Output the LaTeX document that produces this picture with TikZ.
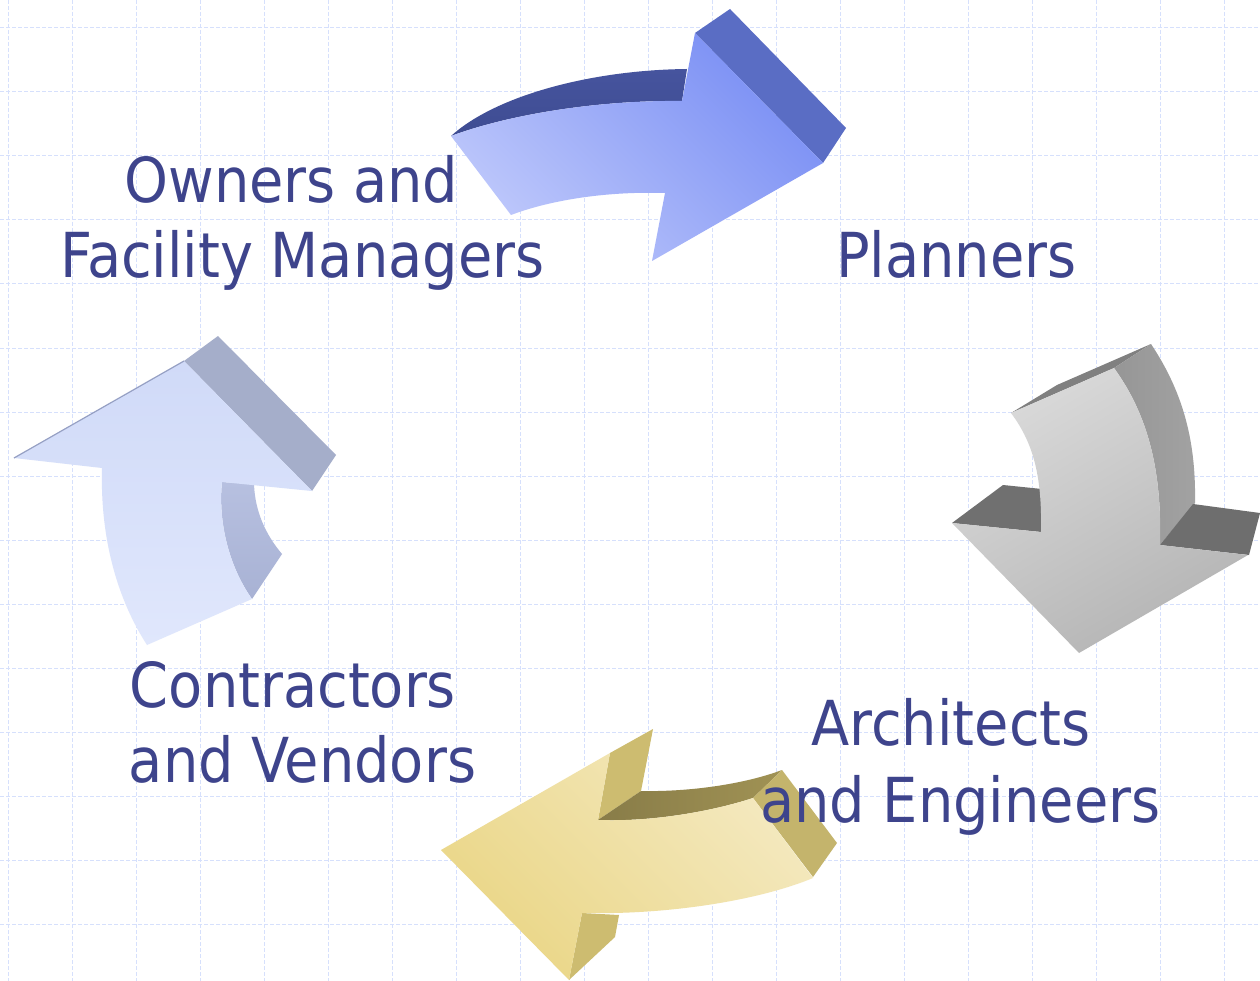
\documentclass[tikz,border=0pt]{standalone}
\usepackage{fontspec}
\setmainfont{DejaVu Sans Condensed}
\definecolor{txt}{RGB}{62,68,140}
\definecolor{gridc}{RGB}{214,224,252}
% blue arrow
\definecolor{bTopA}{RGB}{70,84,158}
\definecolor{bTopB}{RGB}{62,76,146}
\definecolor{bSide}{RGB}{90,109,196}
\definecolor{bUR}{RGB}{122,143,244}
\definecolor{bLL}{RGB}{190,200,251}
% gray arrow
\definecolor{gTop}{RGB}{128,128,128}
\definecolor{gSideA}{RGB}{150,150,150}
\definecolor{gSideB}{RGB}{162,162,162}
\definecolor{gWingL}{RGB}{112,112,112}
\definecolor{gWingR}{RGB}{110,110,110}
\definecolor{gUL}{RGB}{218,218,218}
\definecolor{gLR}{RGB}{180,180,180}
% yellow arrow
\definecolor{ySide}{RGB}{205,188,112}
\definecolor{yTopA}{RGB}{136,124,72}
\definecolor{yTopB}{RGB}{160,146,84}
\definecolor{yEnd}{RGB}{196,180,108}
\definecolor{yUR}{RGB}{244,233,192}
\definecolor{yLL}{RGB}{234,214,134}
% pale blue arrow
\definecolor{pSide}{RGB}{165,174,202}
\definecolor{pInA}{RGB}{183,192,224}
\definecolor{pInB}{RGB}{168,178,212}
\definecolor{pTop}{RGB}{208,218,248}
\definecolor{pBot}{RGB}{224,231,252}
\definecolor{pEdge}{RGB}{150,160,196}
\tikzset{
  lbl/.style={anchor=base, inner sep=0pt, text=txt, font=\fontsize{62}{76}\selectfont},
  gridline/.style={draw=gridc, line width=1pt, dash pattern=on 4pt off 2pt}
}
\begin{document}
\begin{tikzpicture}[x=1pt,y=-1pt]
\useasboundingbox (0,0) rectangle (1260,981);
\fill[white] (0,0) rectangle (1260,981);
% grid
\foreach \i in {0,...,19} \draw[gridline] (8+64*\i,0) -- (8+64*\i,981);
\foreach \j in {0,...,14} \draw[gridline] (0,28+64*\j) -- (1260,28+64*\j);

% ===== Arrow 1 (blue, top) =====
\shade[top color=bTopA, bottom color=bTopB]
  (451,136) .. controls (495,96) and (590,70) .. (687,69) -- (682,101)
  .. controls (600,100) and (510,114) .. (451,136) -- cycle;
\fill[bSide] (695,33) -- (730,9) -- (846,128) -- (823,163) -- cycle;
\shade[top color=bUR, bottom color=bLL, shading angle=-45]
  (451,136) .. controls (510,114) and (600,100) .. (682,101) -- (695,33) -- (823,163) -- (652,261) -- (665,193)
  .. controls (600,191) and (545,202) .. (511,215) -- cycle;

% ===== Arrow 2 (gray, right) =====
\fill[gTop] (1011,413) -- (1057,385) -- (1151,344) -- (1114,368) -- cycle;
\shade[left color=gSideA, right color=gSideB]
  (1114,368) -- (1151,344) .. controls (1185,395) and (1196,445) .. (1195,503) -- (1160,545)
  .. controls (1162,470) and (1148,415) .. (1114,368) -- cycle;
\fill[gWingL] (952,523) -- (1003,485) -- (1042,489) -- (1041,532) -- cycle;
\fill[gWingR] (1160,545) -- (1193,504) -- (1260,513) -- (1249,555) -- cycle;
\shade[top color=gUL, bottom color=gLR, shading angle=30]
  (1011,413) .. controls (1035,445) and (1042,480) .. (1041,532) -- (952,523) -- (1079,653) -- (1248,555) -- (1160,545)
  .. controls (1162,470) and (1148,415) .. (1114,368) -- cycle;

% ===== Arrow 3 (yellow, bottom) =====
\fill[ySide] (610,753) -- (653,729) -- (641,791) -- (598,820) -- cycle;
\shade[left color=yTopA, right color=yTopB]
  (598,820) -- (641,791) .. controls (690,792) and (745,784) .. (782,770) -- (753,798)
  .. controls (710,812) and (650,822) .. (598,820) -- cycle;
\fill[yEnd] (753,798) -- (782,770) -- (837,843) -- (813,877) -- cycle;
\fill[ySide] (582,913) -- (619,915) -- (615,937) -- (569,980) -- cycle;
\shade[top color=yUR, bottom color=yLL, shading angle=-45]
  (441,850) -- (610,753) -- (598,820) .. controls (650,822) and (710,812) .. (753,798) -- (813,878)
  .. controls (760,900) and (670,915) .. (582,913) -- (569,980) -- cycle;

% ===== Arrow 4 (pale blue, left) =====
\fill[pSide] (184,361) -- (218,336) -- (336,455) -- (312,491) -- cycle;
\shade[top color=pInA, bottom color=pInB]
  (222,482) -- (254,484) .. controls (255,512) and (266,535) .. (282,554) -- (252,599)
  .. controls (228,565) and (218,520) .. (222,482) -- cycle;
\shade[top color=pTop, bottom color=pBot]
  (14,458) -- (184,361) -- (312,491) -- (222,482) .. controls (218,520) and (228,565) .. (252,599) -- (147,645)
  .. controls (118,600) and (100,540) .. (102,468) -- cycle;
\draw[pEdge, line width=1.2pt] (14,458) -- (184,361);

% ===== Labels =====
\node[lbl] (own1) at (291.5,203) {Owners and};
\node[lbl] (own2) at (302.5,278) {Facility Managers};
\node[lbl] (plan) at (956.5,278) {Planners};
\node[lbl] (arch1) at (951,745) {Architects};
\node[lbl] (arch2) at (960.5,822) {and Engineers};
\node[lbl] (con1) at (293,707) {Contractors};
\node[lbl] (con2) at (302.5,782) {and Vendors};
\end{tikzpicture}
\end{document}
